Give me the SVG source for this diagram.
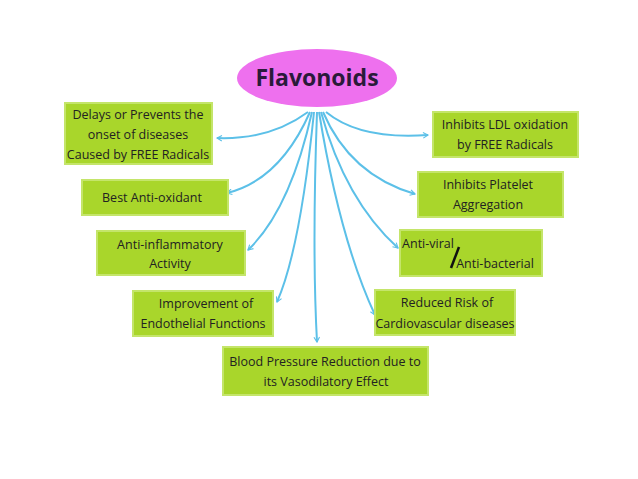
<svg xmlns="http://www.w3.org/2000/svg" width="638" height="479" viewBox="0 0 638 479">
<defs>
<marker id="ah" viewBox="0 0 10 10" refX="8" refY="5" markerWidth="7" markerHeight="7" orient="auto-start-reverse" markerUnits="userSpaceOnUse">
<path d="M1,1 L8,5 L1,9" fill="none" stroke="#5cc0e8" stroke-width="1.6"/>
</marker>
</defs>
<style>
.box{fill:#a9d62b;stroke:#c4e56a;stroke-width:2}
.t{font-family:"Open Sans","Liberation Sans",sans-serif;font-size:12.5px;fill:#222;text-anchor:middle}
.c{fill:none;stroke:#5cc0e8;stroke-width:2;marker-end:url(#ah)}
</style>
<rect width="638" height="479" fill="#fff"/>
<g id="connectors">
<path class="c" d="M308,112 Q270,140 217,138"/>
<path class="c" d="M310,112 Q280,180 227,193"/>
<path class="c" d="M312,112 Q290,210 248,250"/>
<path class="c" d="M314,112 Q300,250 277,302"/>
<path class="c" d="M317,112 Q312,250 317,342"/>
<path class="c" d="M326,112 Q360,140 428,135"/>
<path class="c" d="M323,112 Q350,175 415,194"/>
<path class="c" d="M321,112 Q345,200 398,248"/>
<path class="c" d="M319,112 Q340,240 375,315"/>
</g>
<g id="flavonoids">
<ellipse cx="317" cy="78" rx="80" ry="29" fill="#ee70ee"/>
<text x="317" y="86" style="font-family:'Open Sans','Liberation Sans',sans-serif;font-size:23px;font-weight:bold;fill:#2a1a3a;text-anchor:middle">Flavonoids</text>
</g>
<g id="n1"><rect class="box" x="65" y="103" width="147" height="61"/>
<text class="t" x="138" y="119">Delays or Prevents the</text><text class="t" x="138" y="139">onset of diseases</text><text class="t" x="138" y="159">Caused by FREE Radicals</text></g>
<g id="n2"><rect class="box" x="82" y="180" width="146" height="35"/><text class="t" x="152" y="202">Best Anti-oxidant</text></g>
<g id="n3"><rect class="box" x="97" y="231" width="148" height="44"/><text class="t" x="170" y="249">Anti-inflammatory</text><text class="t" x="170" y="268">Activity</text></g>
<g id="n4"><rect class="box" x="133" y="291" width="140" height="45"/><text class="t" x="206" y="308">Improvement of</text><text class="t" x="203" y="328">Endothelial Functions</text></g>
<g id="n5"><rect class="box" x="223" y="347" width="205" height="48"/><text class="t" x="325" y="366">Blood Pressure Reduction due to</text><text class="t" x="326" y="386">its Vasodilatory Effect</text></g>
<g id="n6"><rect class="box" x="433" y="112" width="145" height="45"/><text class="t" x="505" y="129">Inhibits  LDL  oxidation</text><text class="t" x="505" y="149">by  FREE  Radicals</text></g>
<g id="n7"><rect class="box" x="418" y="172" width="145" height="45"/><text class="t" x="488" y="189">Inhibits  Platelet</text><text class="t" x="488" y="209">Aggregation</text></g>
<g id="n8"><rect class="box" x="400" y="230" width="142" height="46"/><text class="t" x="428" y="248">Anti-viral</text>
<line x1="451" y1="268" x2="459" y2="247" stroke="#111" stroke-width="2.5"/><text class="t" x="495" y="268">Anti-bacterial</text></g>
<g id="n9"><rect class="box" x="375" y="290" width="140" height="45"/><text class="t" x="447" y="307">Reduced Risk of</text><text class="t" x="445" y="328">Cardiovascular diseases</text></g>
</svg>
